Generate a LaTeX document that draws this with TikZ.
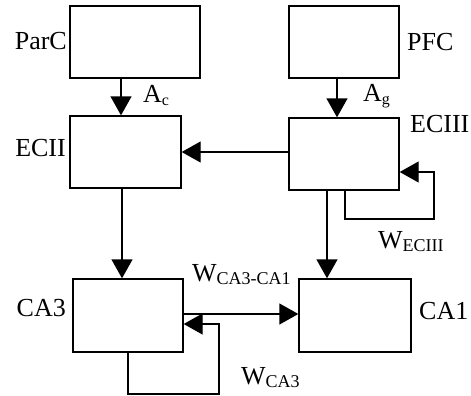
\documentclass[tikz,border=0pt]{standalone}
\usepackage{fontspec}
\setmainfont{Liberation Serif}
\usetikzlibrary{arrows.meta}
\newcommand\lblsub[3]{#1\raisebox{-3pt}{\fontsize{#3}{#3}\selectfont #2}}
\begin{document}
\begin{tikzpicture}[x=1pt,y=-1pt,
  box/.style={draw,line width=1.4pt,inner sep=0pt,minimum width=#1},
  conn/.style={line width=1.4pt,-{Triangle[length=19pt,width=21pt]}},
  lbl/.style={inner sep=0pt,font=\fontsize{26}{26}\selectfont}]
\useasboundingbox (0,0) rectangle (471,396);
% boxes
\node[box=130pt,minimum height=72pt] (parc) at (135,42) {};
\node[box=111pt,minimum height=72pt] (ecii) at (125.5,152) {};
\node[box=110pt,minimum height=72pt] (pfc) at (344,42) {};
\node[box=110pt,minimum height=72pt] (eciii) at (344,154) {};
\node[box=110pt,minimum height=73pt] (ca3) at (128,315.5) {};
\node[box=112pt,minimum height=73pt] (ca1) at (355,315.5) {};
% names
\node[lbl,anchor=base east] (tparc) at (67,50) {ParC};
\node[lbl,anchor=base east] (tecii) at (66,156) {ECII};
\node[lbl,anchor=base west] (tpfc) at (407,51) {PFC};
\node[lbl,anchor=base west] (teciii) at (410,132) {ECIII};
\node[lbl,anchor=base east] (tca3) at (66,316) {CA3};
\node[lbl,anchor=base west] (tca1) at (419,319) {CA1};
% weight labels
\node[lbl,anchor=base west] (tac) at (143,102) {\lblsub{A}{c}{16}};
\node[lbl,anchor=base west] (tag) at (363,101) {\lblsub{A}{g}{16}};
\node[lbl,anchor=base west] (tw31) at (192,281) {\lblsub{W}{CA3-CA1}{18}};
\node[lbl,anchor=base west] (tweciii) at (378,248) {\lblsub{W}{ECIII}{18}};
\node[lbl,anchor=base west] (twca3) at (241,384) {\lblsub{W}{CA3}{18}};
% connectors
\draw[conn] (parc.south -| 121,0) -- (ecii.north -| 121,0);
\draw[conn] (pfc.south -| 337,0) -- (eciii.north -| 337,0);
\draw[conn] (eciii.west |- 0,152) -- (ecii.east |- 0,152);
\draw[conn] (ecii.south -| 122,0) -- (ca3.north -| 122,0);
\draw[conn] (eciii.south -| 327,0) -- (ca1.north -| 327,0);
\draw[conn] (ca3.east |- 0,314) -- (ca1.west |- 0,314);
% self loops
\coordinate (le1) at (345,219);
\coordinate (le2) at (434,219);
\draw[conn] (eciii.south -| le1) -- (le1) -- (le2) -- (le2 |- 0,172) -- (eciii.east |- 0,172);
\coordinate (lc1) at (128,394);
\coordinate (lc2) at (219,394);
\draw[conn] (ca3.south -| lc1) -- (lc1) -- (lc2) -- (lc2 |- 0,324) -- (ca3.east |- 0,324);
\end{tikzpicture}
\end{document}
